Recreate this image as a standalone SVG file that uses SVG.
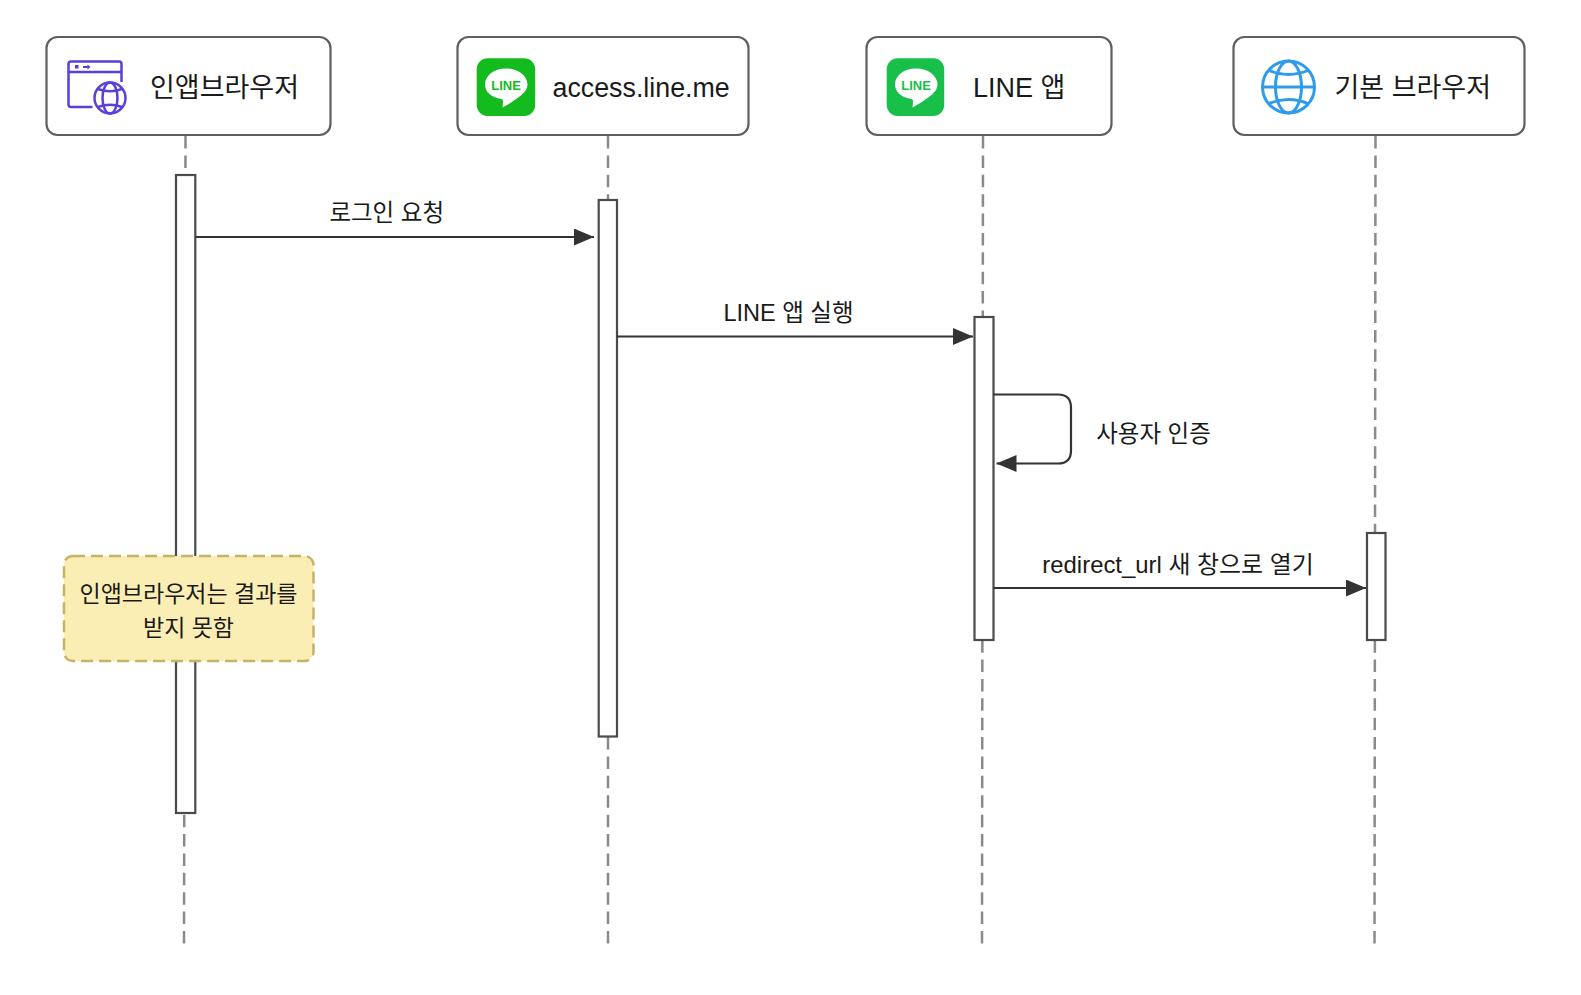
<svg xmlns="http://www.w3.org/2000/svg" width="1581" height="995" viewBox="0 0 1581 995">
<style>
text{font-family:"Liberation Sans","Noto Sans CJK KR",sans-serif;fill:#1a1a1a}
.t{font-size:27px}
.m{font-size:23.5px;text-anchor:middle}
.n{font-size:23px;text-anchor:middle}
.box{fill:#fff;stroke:#5e5e5e;stroke-width:2.200}
.life{fill:none;stroke:#8a8a8a;stroke-width:2.500;stroke-dasharray:12.500 6.890}
.act{fill:#fff;stroke:#4a4a4a;stroke-width:2.200}
.msg{fill:none;stroke:#333;stroke-width:2.200}
.bub{fill:#fff}
.lt{font-size:13px;font-weight:bold;text-anchor:middle}
</style>
<defs>
<marker id="arr" markerUnits="userSpaceOnUse" markerWidth="20" markerHeight="17" refX="20" refY="8.500" orient="auto"><path d="M0 0L20 8.500L0 17Z" fill="#333"/></marker>
<path id="bubble" class="bub" d="M29 10.500C16.500 10.500 8 18 8 26.500C8 34 14.500 39.500 24.500 41Q26.500 41.500 26 44L25.500 49.500Q36 44 44.500 37Q50.500 32 50.500 26.500C50.500 18 41.500 10.500 29 10.500Z"/>
</defs>
<rect width="1581" height="995" fill="#fff"/>
<g id="connectors">
<path class="life" d="M185.500 136L184 943.500"/>
<path class="life" d="M608 136L608 943.500"/>
<path class="life" d="M983 136L982 943.500"/>
<path class="life" d="M1375.500 136L1374.500 943.500"/>
</g>
<g id="activations">
<rect class="act" x="176" y="175" width="19.300" height="638"/>
<rect class="act" x="598.700" y="200" width="18.300" height="536.500"/>
<rect class="act" x="974.500" y="317" width="19" height="323"/>
<rect class="act" x="1367" y="533" width="18.500" height="107"/>
</g>
<g id="messages">
<path class="msg" d="M195.500 237H594" marker-end="url(#arr)"/>
<text class="m" x="386.700" y="220.500">로그인 요청</text>
<path class="msg" d="M617 336.500H973" marker-end="url(#arr)"/>
<text class="m" x="788.500" y="320.500">LINE 앱 실행</text>
<path class="msg" d="M993.500 394.500H1058Q1071 394.500 1071 407.500V450.500Q1071 463.500 1058 463.500H996.500" marker-end="url(#arr)"/>
<text class="m" x="1153.500" y="441.500">사용자 인증</text>
<path class="msg" d="M993.500 588H1366" marker-end="url(#arr)"/>
<text class="m" x="1178" y="572.500" style="font-size:23.900px">redirect_url 새 창으로 열기</text>
</g>
<g id="note">
<rect x="64" y="556" width="249.500" height="105" rx="9" fill="#fbeeb4" stroke="#c8b265" stroke-width="2.500" stroke-dasharray="12 6"/>
<text class="n" x="188.500" y="601.500">인앱브라우저는 결과를</text>
<text class="n" x="188.500" y="635.500">받지 못함</text>
</g>
<g id="node-inapp">
<rect class="box" x="46.500" y="37" width="284" height="98" rx="11"/>
<g fill="none" stroke="#5b3fd8" stroke-width="2.500">
<path d="M92.500 107H71Q68.500 107 68.500 104.500V64Q68.500 61.500 71 61.500H119Q121.500 61.500 121.500 64V82"/>
<path d="M68.500 72H121.500"/>
<circle cx="110" cy="98" r="15.500"/>
<ellipse cx="110" cy="98" rx="7.500" ry="15.500"/>
<path d="M98 89Q110 93.500 122 89M98 107Q110 102.500 122 107"/>
</g>
<path d="M75 65h3.500v3.500h-3.500zM83 66h4.500v-1.500l3 2.500-3 2.500v-1.500h-4.500z" fill="#5b3fd8"/>
<text class="t" x="150" y="97">인앱브라우저</text>
</g>
<g id="node-access">
<rect class="box" x="457.500" y="37" width="291" height="98" rx="11"/>
<rect x="476.700" y="58.300" width="58.500" height="57.700" rx="11" fill="#14bb1e"/>
<use href="#bubble" x="477" y="58"/>
<text class="lt" x="506" y="90" style="fill:#14bb1e">LINE</text>
<text class="t" x="552.500" y="97" style="font-size:26.800px">access.line.me</text>
</g>
<g id="node-lineapp">
<rect class="box" x="866.500" y="37" width="245" height="98" rx="11"/>
<rect x="886.700" y="58.300" width="57.500" height="57.700" rx="11" fill="#18c04a"/>
<use href="#bubble" x="887" y="58"/>
<text class="lt" x="916" y="90" style="fill:#18c04a">LINE</text>
<text class="t" x="973" y="97">LINE 앱</text>
</g>
<g id="node-browser">
<rect class="box" x="1233.500" y="37" width="291" height="98" rx="11"/>
<g fill="none" stroke="#2f9bec" stroke-width="3">
<circle cx="1288.500" cy="87" r="26"/>
<ellipse cx="1288.500" cy="87" rx="13" ry="26"/>
<path d="M1262.500 87H1314.500M1268 70Q1288.500 79 1309 70M1268 104Q1288.500 95 1309 104"/>
</g>
<text class="t" x="1334.500" y="97">기본 브라우저</text>
</g>
</svg>
